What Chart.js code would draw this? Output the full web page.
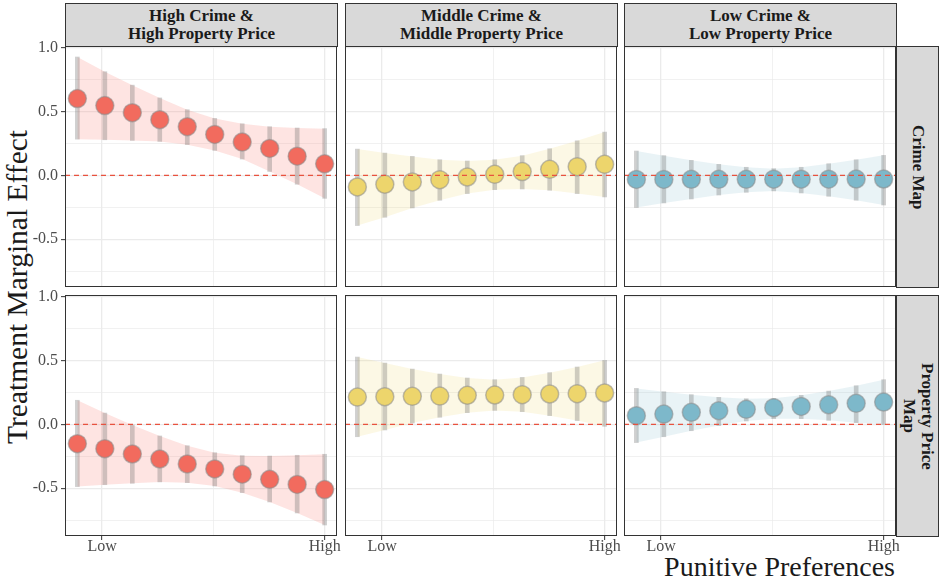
<!DOCTYPE html>
<html>
<head>
<meta charset="utf-8">
<script src="https://cdn.jsdelivr.net/npm/chart.js@4.4.0/dist/chart.umd.min.js"></script>
<style>
  body { margin: 0; background: #fff; }
  #wrap { position: relative; width: 940px; height: 582px; overflow: hidden; font-family: "Liberation Serif", serif; }
  #wrap canvas { position: absolute; }
  .strip { position: absolute; background: #d9d9d9; border: 1px solid #333; box-sizing: border-box;
           display: flex; align-items: center; justify-content: center; text-align: center;
           font-weight: bold; font-size: 17px; line-height: 18px; color: #1a1a1a; }
  .strip.side { writing-mode: vertical-rl; }
  #ytitle { position: absolute; left: 17px; top: 287px; transform: translate(-50%, -50%) rotate(-90deg);
            font-size: 29.5px; white-space: nowrap; color: #1a1a1a; }
  #xtitle { position: absolute; right: 45px; top: 553px; font-size: 28px; line-height: 28px; white-space: nowrap; color: #1a1a1a; }
</style>
</head>
<body>
<div id="wrap">
  <div id="ytitle">Treatment Marginal Effect</div>
  <div id="xtitle">Punitive Preferences</div>
</div>
<script>
// punitive preference levels (x) and axis breaks
const punitive = [1, 2, 3, 4, 5, 6, 7, 8, 9, 10];
const xTicks = [1.9, 5.95, 10];
const xTickLabels = ['Low', '', 'High'];
const yTicks = [-0.75, -0.5, -0.25, 0, 0.25, 0.5, 0.75, 1];
const yTickLabels = ['', '-0.5', '', '0.0', '', '0.5', '', '1.0'];

const colTitles = ['High Crime &\nHigh Property Price', 'Middle Crime  &\nMiddle Property Price', 'Low Crime &\nLow Property Price'];
const rowTitles = ['Crime Map', 'Property Price\nMap'];

// Crime Map treatment
const highCrimeMapEst = [0.60, 0.545, 0.49, 0.435, 0.38, 0.32, 0.26, 0.21, 0.15, 0.09];
const highCrimeMapLo  = [0.283, 0.278, 0.273, 0.265, 0.24, 0.195, 0.127, 0.03, -0.07, -0.18];
const highCrimeMapHi  = [0.925, 0.81, 0.705, 0.605, 0.513, 0.445, 0.403, 0.38, 0.37, 0.365];

const midCrimeMapEst = [-0.091, -0.07, -0.052, -0.034, -0.013, 0.008, 0.029, 0.047, 0.068, 0.086];
const midCrimeMapLo  = [-0.393, -0.328, -0.255, -0.195, -0.143, -0.112, -0.107, -0.117, -0.143, -0.169];
const midCrimeMapHi  = [0.205, 0.174, 0.148, 0.122, 0.112, 0.122, 0.154, 0.208, 0.27, 0.338];

const lowCrimeMapEst = [-0.032, -0.032, -0.031, -0.031, -0.031, -0.030, -0.030, -0.030, -0.029, -0.029];
const lowCrimeMapLo  = [-0.252, -0.216, -0.185, -0.154, -0.133, -0.122, -0.138, -0.164, -0.195, -0.232];
const lowCrimeMapHi  = [0.19, 0.154, 0.117, 0.086, 0.063, 0.052, 0.063, 0.091, 0.122, 0.156];

// Property Price Map treatment
const highPriceMapEst = [-0.151, -0.19, -0.232, -0.271, -0.31, -0.349, -0.39, -0.43, -0.47, -0.51];
const highPriceMapLo  = [-0.487, -0.472, -0.461, -0.45, -0.456, -0.482, -0.534, -0.607, -0.693, -0.787];
const highPriceMapHi  = [0.188, 0.088, -0.005, -0.091, -0.167, -0.222, -0.245, -0.248, -0.242, -0.234];

const midPriceMapEst = [0.213, 0.216, 0.219, 0.221, 0.227, 0.229, 0.232, 0.237, 0.24, 0.245];
const midPriceMapLo  = [-0.097, -0.044, 0.01, 0.055, 0.091, 0.109, 0.099, 0.068, 0.029, -0.016];
const midPriceMapHi  = [0.526, 0.479, 0.432, 0.393, 0.362, 0.349, 0.367, 0.404, 0.448, 0.50];

const lowPriceMapEst = [0.068, 0.08, 0.094, 0.107, 0.117, 0.13, 0.14, 0.153, 0.164, 0.174];
const lowPriceMapLo  = [-0.143, -0.097, -0.05, -0.01, 0.026, 0.044, 0.044, 0.031, 0.013, -0.002];
const lowPriceMapHi  = [0.281, 0.255, 0.232, 0.211, 0.20, 0.203, 0.227, 0.26, 0.302, 0.349];

const palette = [
  { point: '#F26B5E', ribbon: 'rgba(248,118,109,0.2)' },
  { point: '#EDD56C', ribbon: 'rgba(240,214,100,0.17)' },
  { point: '#7DB8CA', ribbon: 'rgba(125,184,202,0.17)' }
];

const panels = [
  { row: 0, col: 0, est: highCrimeMapEst, lo: highCrimeMapLo, hi: highCrimeMapHi },
  { row: 0, col: 1, est: midCrimeMapEst, lo: midCrimeMapLo, hi: midCrimeMapHi },
  { row: 0, col: 2, est: lowCrimeMapEst, lo: lowCrimeMapLo, hi: lowCrimeMapHi },
  { row: 1, col: 0, est: highPriceMapEst, lo: highPriceMapLo, hi: highPriceMapHi },
  { row: 1, col: 1, est: midPriceMapEst, lo: midPriceMapLo, hi: midPriceMapHi },
  { row: 1, col: 2, est: lowPriceMapEst, lo: lowPriceMapLo, hi: lowPriceMapHi }
];

// facet geometry
const COL_X = [65, 345, 624];
const ROW_Y = [46, 295];
const PANEL_W = 272, PANEL_H = 241;
const PAD = 14;
const Y_AXIS_W = 45, X_AXIS_H = 27;

const wrap = document.getElementById('wrap');
Chart.defaults.font.family = '"Liberation Serif", serif';

function addStrip(text, left, top, w, h, side) {
  const d = document.createElement('div');
  d.className = side ? 'strip side' : 'strip';
  Object.assign(d.style, { left: left + 'px', top: top + 'px', width: w + 'px', height: h + 'px' });
  d.innerHTML = text.split('\n').join('<br>');
  wrap.appendChild(d);
}

colTitles.forEach((t, c) => addStrip(t, COL_X[c], 3, PANEL_W + 1, ROW_Y[0] - 3 + 1, false));
rowTitles.forEach((t, r) => addStrip(t, COL_X[2] + PANEL_W, ROW_Y[r], 43, PANEL_H + 1, true));

// dashed reference line at zero and the panel frame
const framePlugin = {
  id: 'frame',
  afterDatasetsDraw(chart) {
    const { ctx, chartArea: a, scales: { y } } = chart;
    const y0 = y.getPixelForValue(0);
    ctx.save();
    ctx.strokeStyle = '#E8523F';
    ctx.lineWidth = 1.2;
    ctx.setLineDash([5, 4]);
    ctx.beginPath();
    ctx.moveTo(a.left, y0);
    ctx.lineTo(a.right, y0);
    ctx.stroke();
    ctx.restore();
  },
  afterDraw(chart) {
    const { ctx, chartArea: a } = chart;
    ctx.save();
    ctx.strokeStyle = '#333';
    ctx.lineWidth = 1;
    ctx.strokeRect(a.left + 0.5, a.top + 0.5, a.right - a.left - 1, a.bottom - a.top - 1);
    ctx.restore();
  }
};

function drawPanel(p) {
  const first = p.col === 0, bottom = p.row === 1;
  const axisW = first ? Y_AXIS_W : 0, axisH = bottom ? X_AXIS_H : 0;
  const colors = palette[p.col];

  const cv = document.createElement('canvas');
  cv.width = axisW + PANEL_W + 2 * PAD;
  cv.height = PANEL_H + axisH + 2 * PAD;
  cv.style.width = cv.width + 'px';
  cv.style.height = cv.height + 'px';
  cv.style.left = (COL_X[p.col] - axisW - PAD) + 'px';
  cv.style.top = (ROW_Y[p.row] - PAD) + 'px';
  wrap.appendChild(cv);

  const pts = (arr) => punitive.map((x, i) => ({ x, y: arr[i] }));

  new Chart(cv, {
    type: 'scatter',
    data: {
      datasets: [
        { type: 'line', data: pts(p.lo), borderWidth: 0, pointRadius: 0, fill: false, order: 3 },
        { type: 'line', data: pts(p.hi), borderWidth: 0, pointRadius: 0, fill: '-1',
          backgroundColor: colors.ribbon, order: 2 },
        { type: 'bar', data: punitive.map((x, i) => ({ x, y: [p.lo[i], p.hi[i]] })),
          backgroundColor: 'rgba(110,110,110,0.32)', borderWidth: 0, barThickness: 4, order: 1 },
        { type: 'scatter', data: pts(p.est), pointRadius: 9, pointHoverRadius: 9,
          backgroundColor: colors.point, borderColor: 'rgba(140,140,140,0.55)', borderWidth: 1.5, order: 0 }
      ]
    },
    options: {
      responsive: false,
      animation: false,
      events: [],
      layout: { padding: PAD },
      plugins: { legend: { display: false }, tooltip: { enabled: false } },
      scales: {
        x: {
          type: 'linear', min: 0.55, max: 10.45, offset: false,
          afterBuildTicks: (s) => { s.ticks = xTicks.map(v => ({ value: v })); },
          afterFit: (s) => { s.height = axisH; s.paddingLeft = 0; s.paddingRight = 0; },
          border: { display: false },
          grid: {
            offset: false,
            color: '#EBEBEB',
            lineWidth: (c) => xTickLabels[c.index] ? 1.3 : 0.7,
            drawTicks: bottom, tickLength: 4, tickWidth: 1,
            tickColor: (c) => xTickLabels[c.index] ? '#333' : 'rgba(0,0,0,0)'
          },
          ticks: {
            display: bottom, autoSkip: false, maxRotation: 0, padding: -1,
            color: '#4D4D4D', font: { size: 16, lineHeight: 1 },
            callback: (v, i) => xTickLabels[i]
          }
        },
        y: {
          type: 'linear', min: -0.873, max: 1.011,
          afterBuildTicks: (s) => { s.ticks = yTicks.map(v => ({ value: v })); },
          afterFit: (s) => { s.width = axisW; s.paddingTop = 0; s.paddingBottom = 0; },
          border: { display: false },
          grid: {
            color: '#EBEBEB',
            lineWidth: (c) => yTickLabels[c.index] ? 1.3 : 0.7,
            drawTicks: first, tickLength: 4, tickWidth: 1,
            tickColor: (c) => yTickLabels[c.index] ? '#333' : 'rgba(0,0,0,0)'
          },
          ticks: {
            display: first, autoSkip: false, padding: 3,
            color: '#4D4D4D', font: { size: 16 },
            callback: (v, i) => yTickLabels[i]
          }
        }
      }
    },
    plugins: [framePlugin]
  });
}

panels.forEach(drawPanel);
</script>
</body>
</html>
